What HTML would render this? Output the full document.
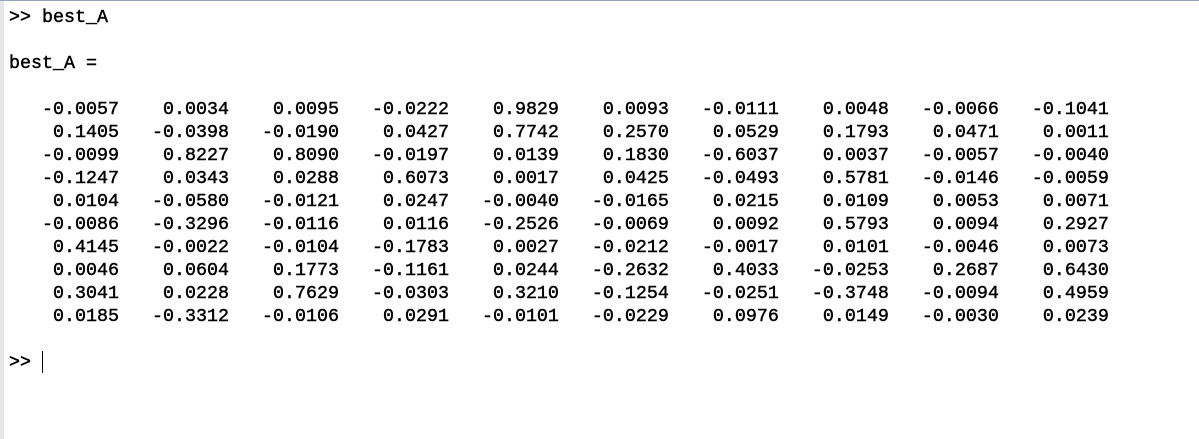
<!DOCTYPE html>
<html><head><meta charset="utf-8"><style>
html,body{margin:0;padding:0;background:#fff;width:1199px;height:439px;overflow:hidden;position:relative}
#topline{position:absolute;left:0;top:0;width:1199px;height:1px;background:#9aa3b5}
#strip{position:absolute;left:0;top:1px;width:4px;height:438px;background:#e6e6ea}
pre{position:absolute;left:9px;top:6px;margin:0;font-family:"Liberation Mono",monospace;font-size:18.33px;line-height:23px;color:#000;-webkit-text-stroke:0.45px #000}
#cursor{position:absolute;left:42px;top:351px;width:1px;height:22px;background:#000}
</style></head><body>
<div id="topline"></div>
<div id="strip"></div>
<pre>&gt;&gt; best_A

best_A =

   -0.0057    0.0034    0.0095   -0.0222    0.9829    0.0093   -0.0111    0.0048   -0.0066   -0.1041
    0.1405   -0.0398   -0.0190    0.0427    0.7742    0.2570    0.0529    0.1793    0.0471    0.0011
   -0.0099    0.8227    0.8090   -0.0197    0.0139    0.1830   -0.6037    0.0037   -0.0057   -0.0040
   -0.1247    0.0343    0.0288    0.6073    0.0017    0.0425   -0.0493    0.5781   -0.0146   -0.0059
    0.0104   -0.0580   -0.0121    0.0247   -0.0040   -0.0165    0.0215    0.0109    0.0053    0.0071
   -0.0086   -0.3296   -0.0116    0.0116   -0.2526   -0.0069    0.0092    0.5793    0.0094    0.2927
    0.4145   -0.0022   -0.0104   -0.1783    0.0027   -0.0212   -0.0017    0.0101   -0.0046    0.0073
    0.0046    0.0604    0.1773   -0.1161    0.0244   -0.2632    0.4033   -0.0253    0.2687    0.6430
    0.3041    0.0228    0.7629   -0.0303    0.3210   -0.1254   -0.0251   -0.3748   -0.0094    0.4959
    0.0185   -0.3312   -0.0106    0.0291   -0.0101   -0.0229    0.0976    0.0149   -0.0030    0.0239

&gt;&gt; </pre>
<div id="cursor"></div>
</body></html>
